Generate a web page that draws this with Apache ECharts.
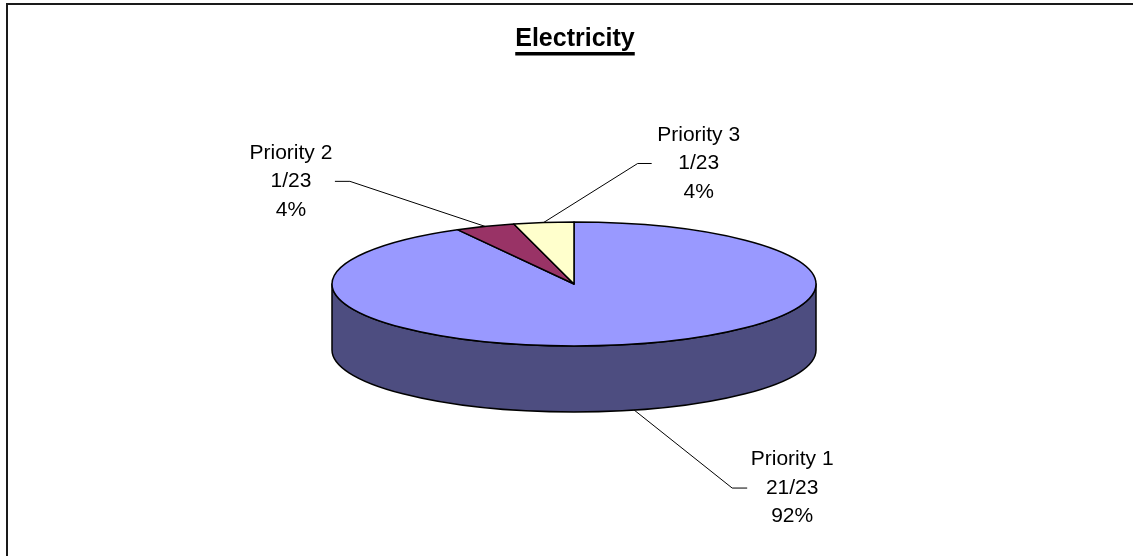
<!DOCTYPE html>
<html>
<head>
<meta charset="utf-8">
<script src="https://cdn.jsdelivr.net/npm/echarts@6/dist/echarts.min.js"></script>
<style>
  html, body { margin: 0; padding: 0; background: #ffffff; }
  #chart { width: 1133px; height: 556px; }
</style>
</head>
<body>
<div id="chart"></div>
<script>
// ---- data ----
const chartTitle = 'Electricity';
const categories = ['Priority 1', 'Priority 2', 'Priority 3'];
const fractions = ['21/23', '1/23', '1/23'];
const percentages = [92, 4, 4];

// ---- styling / layout ----
const topColors = ['#9999ff', '#993366', '#ffffcc'];
const sideColors = ['#4d4d80', '#4d1a33', '#808066'];
const pie = { cx: 574, cy: 284, rx: 242, ry: 62, depth: 66 };
// leader line: elbow offset from the slice anchor, short horizontal tail,
// and where the label's centre sits relative to the tail end
const leaders = [
  { dx: 98, dy: 78, tail: 15, textDx: 45 },
  { dx: -135, dy: -45, tail: -15, textDx: -44 },
  { dx: 94, dy: -59, tail: 14, textDx: 47 }
];
const labelFont = '21px "Liberation Sans", Arial, sans-serif';
const titleFont = 'bold 25px "Liberation Sans", Arial, sans-serif';

const total = percentages.reduce((a, b) => a + b, 0);
const startValues = [];
percentages.reduce((acc, v, i) => { startValues[i] = acc; return acc + v; }, 0);

// angle in degrees, clockwise from 12 o'clock
function pt(deg, dz) {
  const r = deg * Math.PI / 180;
  return [pie.cx + pie.rx * Math.sin(r), pie.cy - pie.ry * Math.cos(r) + (dz || 0)];
}
function f(n) { return n.toFixed(2); }

function renderSlice(params, api) {
  const i = params.dataIndex;
  const v = api.value(0);
  const a0 = startValues[i] / total * 360;
  const a1 = a0 + v / total * 360;
  const children = [];

  // outer wall, only the front half (90°..270°) is visible
  const s = Math.max(a0, 90), e = Math.min(a1, 270);
  if (e > s) {
    const p0 = pt(s), p1 = pt(e), q1 = pt(e, pie.depth), q0 = pt(s, pie.depth);
    const large = (e - s) > 180 ? 1 : 0;
    const d = 'M' + f(p0[0]) + ' ' + f(p0[1]) +
      ' A' + pie.rx + ' ' + pie.ry + ' 0 ' + large + ' 1 ' + f(p1[0]) + ' ' + f(p1[1]) +
      ' L' + f(q1[0]) + ' ' + f(q1[1]) +
      ' A' + pie.rx + ' ' + pie.ry + ' 0 ' + large + ' 0 ' + f(q0[0]) + ' ' + f(q0[1]) + ' Z';
    children.push({
      type: 'path', z2: 1,
      shape: { pathData: d },
      style: { fill: sideColors[i], stroke: '#000', lineWidth: 1.5, lineJoin: 'round' }
    });
  }

  // top face
  const t0 = pt(a0), t1 = pt(a1);
  const bigArc = (a1 - a0) > 180 ? 1 : 0;
  const top = 'M' + pie.cx + ' ' + pie.cy +
    ' L' + f(t0[0]) + ' ' + f(t0[1]) +
    ' A' + pie.rx + ' ' + pie.ry + ' 0 ' + bigArc + ' 1 ' + f(t1[0]) + ' ' + f(t1[1]) + ' Z';
  children.push({
    type: 'path', z2: 2,
    shape: { pathData: top },
    style: { fill: topColors[i], stroke: '#000', lineWidth: 1.5, lineJoin: 'round' }
  });

  // leader line and label
  const mid = (a0 + a1) / 2;
  const anchor = (mid > 90 && mid < 270) ? pt(mid, pie.depth) : pt(mid);
  const L = leaders[i];
  const elbow = [anchor[0] + L.dx, anchor[1] + L.dy];
  const tailEnd = [elbow[0] + L.tail, elbow[1]];
  children.push({
    type: 'polyline', z2: 3,
    shape: { points: [anchor, elbow, tailEnd] },
    style: { stroke: '#000', lineWidth: 1, fill: null }
  });
  children.push({
    type: 'text', z2: 4,
    style: {
      text: categories[i] + '\n' + fractions[i] + '\n' + v + '%',
      x: tailEnd[0] + L.textDx,
      y: tailEnd[1],
      align: 'center',
      verticalAlign: 'middle',
      font: labelFont,
      lineHeight: 28.5,
      fill: '#000'
    }
  });
  return { type: 'group', children: children };
}

// underline width follows the rendered title text
const measureCtx = document.createElement('canvas').getContext('2d');
measureCtx.font = titleFont;
const titleWidth = measureCtx.measureText(chartTitle).width;
const titleX = 575, titleY = 39;

const chart = echarts.init(document.getElementById('chart'), null, { renderer: 'canvas' });
chart.setOption({
  animation: false,
  backgroundColor: '#ffffff',
  graphic: [
    {
      type: 'rect', silent: true, z: 0,
      shape: { x: 7, y: 4, width: 1200, height: 600 },
      style: { fill: null, stroke: '#1a1a1a', lineWidth: 2 }
    },
    {
      type: 'text', z: 10,
      style: {
        text: chartTitle, x: titleX, y: titleY,
        align: 'center', verticalAlign: 'middle',
        font: titleFont, fill: '#000'
      }
    },
    {
      type: 'rect', z: 10,
      shape: { x: titleX - titleWidth / 2, y: 52, width: titleWidth, height: 3.5 },
      style: { fill: '#000' }
    }
  ],
  series: [{
    type: 'custom',
    coordinateSystem: 'none',
    renderItem: renderSlice,
    data: percentages
  }]
});
</script>
</body>
</html>
